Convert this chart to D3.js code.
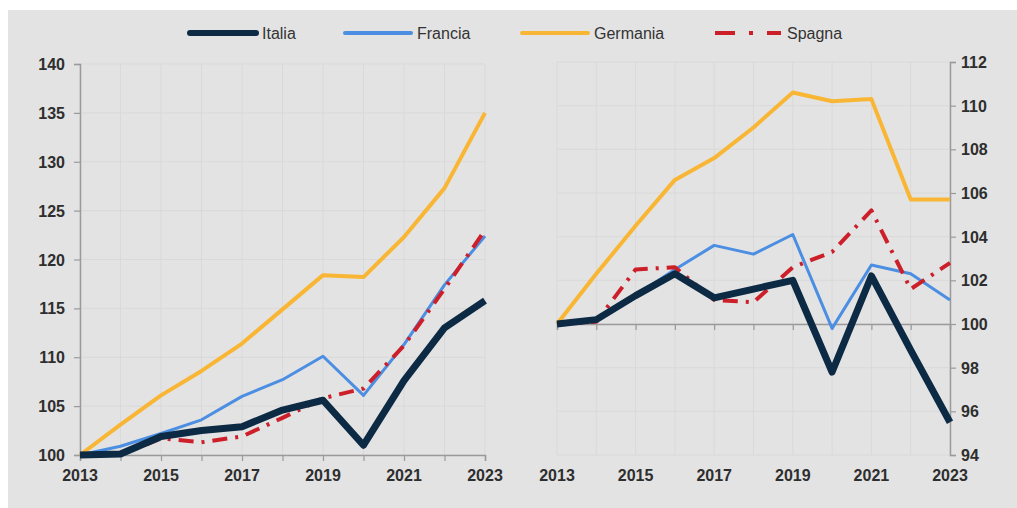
<!DOCTYPE html>
<html>
<head>
<meta charset="utf-8">
<script src="https://cdn.jsdelivr.net/npm/d3@7"></script>
<style>
  body { margin: 0; background: #fff; }
  svg { display: block; font-family: "Liberation Sans", Arial, sans-serif; }
  .tick text { fill: #2e2e2e; font-size: 16px; font-weight: bold; }
</style>
</head>
<body>
<script>
const width = 1017;
const height = 508;

const years = [2013, 2014, 2015, 2016, 2017, 2018, 2019, 2020, 2021, 2022, 2023];
const yearLabels = [2013, 2015, 2017, 2019, 2021, 2023];

// left panel
const italiaA = [100, 100.1, 101.9, 102.5, 102.9, 104.6, 105.6, 101.0, 107.6, 113.0, 115.8];
const franciaA = [100, 100.9, 102.2, 103.6, 106.0, 107.7, 110.1, 106.1, 111.3, 117.4, 122.4];
const germaniaA = [100, 103.1, 106.1, 108.6, 111.4, 114.9, 118.4, 118.2, 122.3, 127.3, 135.0];
const spagnaA = [100, 100.0, 101.7, 101.3, 101.9, 103.8, 105.8, 106.8, 111.2, 117.0, 123.0];
const ticksA = [100, 105, 110, 115, 120, 125, 130, 135, 140];

// right panel
const italiaB = [100, 100.2, 101.3, 102.3, 101.2, 101.6, 102.0, 97.8, 102.2, 98.8, 95.5];
const franciaB = [100, 100.2, 101.3, 102.5, 103.6, 103.2, 104.1, 99.8, 102.7, 102.3, 101.1];
const germaniaB = [100, 102.3, 104.5, 106.6, 107.6, 109.0, 110.6, 110.2, 110.3, 105.7, 105.7];
const spagnaB = [100, 100.1, 102.5, 102.6, 101.1, 101.0, 102.6, 103.3, 105.2, 101.6, 102.8];
const ticksB = [94, 96, 98, 100, 102, 104, 106, 108, 110, 112];

const series = [
  { name: 'Italia', color: '#0c2a44', w: 7, dash: null },
  { name: 'Francia', color: '#4c8fe2', w: 3, dash: null },
  { name: 'Germania', color: '#f9b634', w: 4, dash: null },
  { name: 'Spagna', color: '#cc1f2a', w: 4, dash: '15,8,3,8' },
];

const svg = d3.select('body')
  .append('svg')
    .attr('width', width)
    .attr('height', height);

svg.append('rect')
  .attr('x', 8)
  .attr('y', 10)
  .attr('width', width - 8)
  .attr('height', height - 10)
  .attr('fill', '#e3e3e3');

const drawPanel = (opts) => {
  const x = d3.scaleLinear().domain([2013, 2023]).range(opts.xRange);
  const y = d3.scaleLinear().domain(opts.yDomain).range(opts.yRange);
  const g = svg.append('g');

  // grid
  g.append('g')
    .selectAll('line')
    .data(years)
    .join('line')
      .attr('x1', (d) => x(d))
      .attr('x2', (d) => x(d))
      .attr('y1', opts.yRange[0])
      .attr('y2', opts.yRange[1])
      .attr('stroke', '#d9d9d9')
      .attr('stroke-width', 1);

  g.append('g')
    .selectAll('line')
    .data(opts.ticks)
    .join('line')
      .attr('x1', opts.xRange[0])
      .attr('x2', opts.xRange[1])
      .attr('y1', (d) => y(d))
      .attr('y2', (d) => y(d))
      .attr('stroke', '#d9d9d9')
      .attr('stroke-width', 1);

  // y axis
  const yAxis = opts.right ? d3.axisRight(y) : d3.axisLeft(y);
  const ya = g.append('g')
    .attr('transform', `translate(${opts.right ? opts.xRange[1] : opts.xRange[0]},0)`)
    .call(yAxis.tickValues(opts.ticks).tickSize(6).tickPadding(opts.right ? 5 : 9).tickFormat(d3.format('d')));

  // x axis line at base value
  const xa = g.append('g')
    .attr('transform', `translate(0,${y(opts.base)})`)
    .call(d3.axisBottom(x).tickValues(years).tickSize(6).tickFormat(''));

  [ya, xa].forEach((a) => {
    a.select('.domain').attr('stroke', '#9a9a9a').attr('stroke-width', 1.5);
    a.selectAll('.tick line').attr('stroke', '#9a9a9a').attr('stroke-width', 1.2);
  });
  ya.selectAll('.tick text').attr('dy', '0.35em');

  // x labels at bottom
  g.append('g')
    .selectAll('text')
    .data(yearLabels)
    .join('text')
      .attr('x', (d) => x(d))
      .attr('y', opts.yRange[0] + 26)
      .attr('text-anchor', 'middle')
      .attr('fill', '#2e2e2e')
      .style('font-size', '16px')
      .style('font-weight', 'bold')
      .text((d) => d);

  const line = d3.line()
    .x((d, i) => x(years[i]))
    .y((d) => y(d));

  const order = [2, 1, 3, 0];
  order.forEach((k) => {
    const s = series[k];
    g.append('path')
      .datum(opts.values[k])
      .attr('fill', 'none')
      .attr('stroke', s.color)
      .attr('stroke-width', s.w)
      .attr('stroke-linejoin', 'round')
      .attr('stroke-dasharray', s.dash)
      .attr('d', line);
  });
};

drawPanel({
  xRange: [80, 485],
  yDomain: [100, 140],
  yRange: [455, 64],
  ticks: ticksA,
  base: 100,
  right: false,
  values: [italiaA, franciaA, germaniaA, spagnaA],
});

drawPanel({
  xRange: [557, 950],
  yDomain: [94, 112],
  yRange: [455, 62],
  ticks: ticksB,
  base: 100,
  right: true,
  values: [italiaB, franciaB, germaniaB, spagnaB],
});

// legend
const legendX = [190, 345, 522, 715];
const legend = svg.append('g')
  .selectAll('g')
  .data(series)
  .join('g')
    .attr('transform', (d, i) => `translate(${legendX[i]},33)`);

legend.append('line')
  .attr('x1', 0)
  .attr('x2', 66)
  .attr('stroke', (d) => d.color)
  .attr('stroke-width', (d) => d.name === 'Italia' ? 6 : 4)
  .attr('stroke-linecap', (d) => d.dash ? 'butt' : 'round')
  .attr('stroke-dasharray', (d) => d.dash ? '20,14,4,14' : null);

legend.append('text')
  .attr('x', 72)
  .attr('dy', '0.35em')
  .attr('fill', '#333')
  .style('font-size', '16px')
  .text((d) => d.name);
</script>
</body>
</html>
